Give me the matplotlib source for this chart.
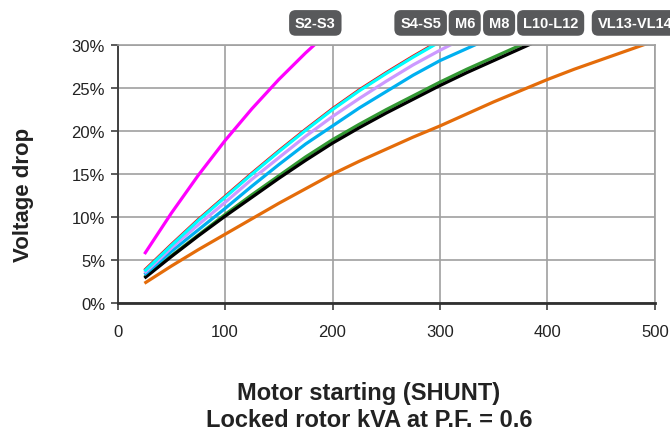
import numpy as np
import matplotlib
matplotlib.use("Agg")
import matplotlib.pyplot as plt
import matplotlib.transforms as mtransforms

plt.rcParams['font.family'] = ['Liberation Sans', 'DejaVu Sans']

# locked rotor kVA and voltage drop (%)
kva = [25, 50, 75, 100, 125, 150, 175, 200, 225, 250, 275, 300,
       325, 350, 375, 400, 425, 450, 475, 500]

s2_s3 = [5.7, 10.45, 14.85, 18.9, 22.6, 26.0, 29.1, 31.95]
s4_s5_red = [3.8, 6.8, 9.7, 12.4, 15.1, 17.7, 20.2, 22.6, 24.8, 26.8, 28.7, 30.5]
s4_s5 = [3.7, 6.7, 9.6, 12.3, 15.0, 17.6, 20.1, 22.5, 24.7, 26.7, 28.6, 30.4]
m6 = [3.5, 6.4, 9.1, 11.7, 14.4, 16.9, 19.4, 21.7, 23.8, 25.8, 27.7, 29.4, 31.0]
m8 = [3.3, 6.0, 8.5, 11.0, 13.6, 16.1, 18.5, 20.6, 22.7, 24.6, 26.5, 28.2, 29.6, 31.0]
l10_green = [3.0, 5.5, 7.9, 10.3, 12.6, 14.8, 17.0, 19.0, 20.8, 22.5, 24.1, 25.7,
             27.2, 28.6, 30.0, 31.3]
l10_l12 = [2.9, 5.4, 7.8, 10.1, 12.3, 14.5, 16.6, 18.6, 20.4, 22.1, 23.7, 25.3,
           26.8, 28.2, 29.6, 31.0]
vl13_vl14 = [2.3, 4.3, 6.2, 8.0, 9.8, 11.6, 13.3, 15.0, 16.5, 17.9, 19.3, 20.6,
             22.0, 23.4, 24.7, 26.0, 27.2, 28.3, 29.4, 30.5]

series = [
    (vl13_vl14, '#e46c0a'),
    (l10_green, '#339933'),
    (l10_l12, '#000000'),
    (m8, '#00b0f0'),
    (m6, '#cc99ff'),
    (s4_s5_red, '#ff0000'),
    (s4_s5, '#00ffff'),
    (s2_s3, '#ff00ff'),
]

frame_labels = ['S2-S3', 'S4-S5', 'M6', 'M8', 'L10-L12', 'VL13-VL14']
label_x = [184, 282, 323, 355, 403, 481.5]

fig = plt.figure(figsize=(6.7, 4.35), dpi=100)
ax = fig.add_axes([0.1755, 0.301, 0.802, 0.593])

for vals, col in series:
    ax.plot(kva[:len(vals)], vals, color=col, lw=2.3, solid_capstyle='butt')

ax.set_xlim(0, 500)
ax.set_ylim(0, 30)
ax.set_xticks(np.arange(0, 501, 100))
ax.set_yticks(np.arange(0, 31, 5))
ax.set_yticklabels([f'{v}%' for v in range(0, 31, 5)])
ax.grid(True, color='#a0a0a0', lw=1.2)
ax.set_axisbelow(True)
ax.tick_params(labelsize=12, colors='#404040', labelcolor='#222222',
               length=5, width=1.2, pad=4)
ax.tick_params(axis='x', pad=10)

for side in ['top', 'right']:
    ax.spines[side].set_color('#a0a0a0')
    ax.spines[side].set_linewidth(1.2)
ax.spines['left'].set_color('#404040')
ax.spines['left'].set_linewidth(1.4)
ax.spines['bottom'].set_color('#303030')
ax.spines['bottom'].set_linewidth(2)

fig.text(23 / 670, 1 - 195 / 435, 'Voltage drop', rotation=90,
         ha='center', va='center', fontsize=16, fontweight='bold',
         color='#222222')
fig.text(369 / 670, 1 - 407 / 435,
         'Motor starting (SHUNT)\nLocked rotor kVA at P.F. = 0.6',
         ha='center', va='center', fontsize=17, fontweight='bold',
         color='#222222', linespacing=1.25)

trans = mtransforms.blended_transform_factory(ax.transData, fig.transFigure)
for name, xpos in zip(frame_labels, label_x):
    ax.text(xpos, 0.945, name, transform=trans, ha='center', va='center',
            fontsize=10.5, fontweight='bold', color='white', clip_on=False,
            bbox=dict(boxstyle='round,pad=0.4,rounding_size=0.45',
                      fc='#58595b', ec='none'))

fig.savefig('out.png', dpi=100)
